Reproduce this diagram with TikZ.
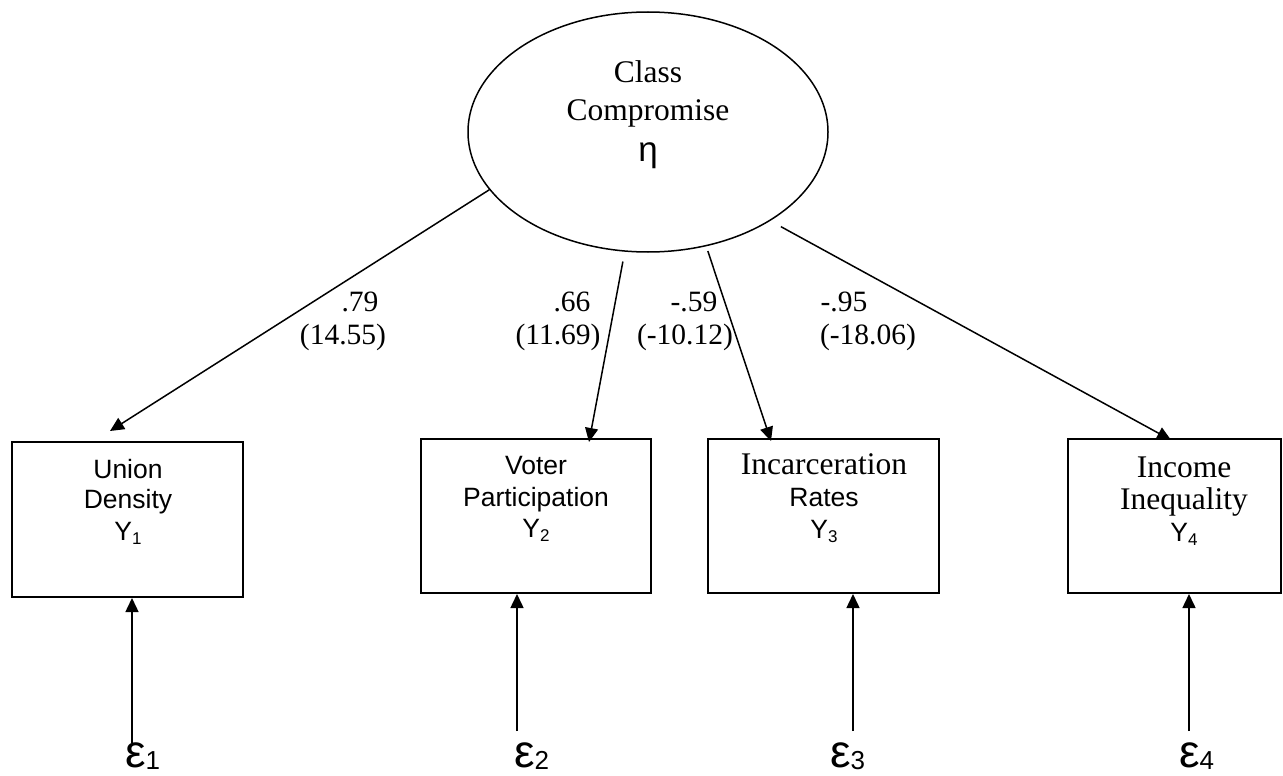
\documentclass[tikz,border=0pt]{standalone}
\usepackage{fontspec}
\setmainfont{Liberation Serif}
\newfontfamily\ars{Liberation Sans}
\usetikzlibrary{arrows.meta,shapes.geometric}
\begin{document}
\begin{tikzpicture}[x=1pt,y=-1pt,
 arr/.style={line width=1.5pt,-{Triangle[length=14pt,width=13pt]}},
 obs/.style={draw,line width=2pt,minimum width=231pt,minimum height=155pt,inner sep=0pt},
 ser/.style={font=\fontsize{31.5}{31.5}\selectfont,anchor=base,inner sep=0pt},
 san/.style={font=\ars\fontsize{26.5}{26.5}\selectfont,anchor=base,inner sep=0pt},
 lab/.style={font=\fontsize{29.5}{29.5}\selectfont,anchor=base,inner sep=0pt},
 eps/.style={font=\ars\fontsize{46}{46}\selectfont,anchor=base west,inner sep=0pt}]
\useasboundingbox (0,0) rectangle (1283,776);
% latent variable
\node[draw,ellipse,minimum width=360pt,minimum height=240pt,line width=1.5pt,inner sep=0pt] (ell) at (648,132) {};
\node[ser] (c1) at (648,83) {Class};
\node[ser] (c2) at (648,120) {Compromise};
\node[font=\ars\fontsize{35}{35}\selectfont,anchor=base,inner sep=0pt] (c3) at (648,161) {η};
% indicators
\node[obs] (b1) at (127.5,519.5) {};
\node[obs,minimum width=230pt,minimum height=154pt] (b2) at (536,516) {};
\node[obs,minimum height=154pt] (b3) at (823.5,516) {};
\node[obs,minimum width=213pt,minimum height=154pt] (b4) at (1174.5,516) {};
% box texts
\node[san] (t1a) at (128,478) {Union};
\node[san] (t1b) at (128,508) {Density};
\node[san] (t1c) at (128,540) {Y{\raisebox{-4pt}{\fontsize{17}{17}\selectfont 1}}};
\node[san] (t2a) at (536,474) {Voter};
\node[san] (t2b) at (536,506) {Participation};
\node[san] (t2c) at (536,537) {Y{\raisebox{-4pt}{\fontsize{17}{17}\selectfont 2}}};
\node[ser] (t3a) at (824,474) {Incarceration};
\node[san] (t3b) at (824,506) {Rates};
\node[san] (t3c) at (824,538) {Y{\raisebox{-4pt}{\fontsize{17}{17}\selectfont 3}}};
\node[ser] (t4a) at (1184,477) {Income};
\node[ser] (t4b) at (1184,509) {Inequality};
\node[san] (t4c) at (1184,541) {Y{\raisebox{-4pt}{\fontsize{17}{17}\selectfont 4}}};
% loadings
\node[lab] (l1a) at (360,311) {.79};
\node[lab] (l1b) at (343,344) {(14.55)};
\node[lab] (l2a) at (572,311) {.66};
\node[lab] (l2b) at (558,344) {(11.69)};
\node[lab] (l3a) at (694,311) {-.59};
\node[lab] (l3b) at (685,344) {(-10.12)};
\node[lab] (l4a) at (844,311) {-.95};
\node[lab] (l4b) at (868,344) {(-18.06)};
% loading arrows
\draw[arr] (ell.200) -- ([xshift=-17.5pt,yshift=10pt]b1.north);
\draw[arr,shorten <=10pt] (ell.259) -- ([xshift=53pt,yshift=-4pt]b2.north);
\draw[arr,shorten <=5pt] (ell.297) -- ([xshift=-52.5pt,yshift=-3pt]b3.north);
\draw[arr,shorten <=12pt] (ell.324) -- ([xshift=-3.5pt,yshift=-2pt]b4.north);
% errors
\node[eps] (e1) at (125,767) {ε\raisebox{-2pt}{\fontsize{26}{26}\selectfont 1}};
\node[eps] (e2) at (514,767) {ε\raisebox{-2pt}{\fontsize{26}{26}\selectfont 2}};
\node[eps] (e3) at (830,767) {ε\raisebox{-2pt}{\fontsize{26}{26}\selectfont 3}};
\node[eps] (e4) at (1179,767) {ε\raisebox{-2pt}{\fontsize{26}{26}\selectfont 4}};
\coordinate (u1) at (132,743);
\coordinate (u2) at (517,731);
\coordinate (u3) at (853,731);
\coordinate (u4) at (1189,731);
\draw[arr] (u1) -- (u1 |- b1.south);
\draw[arr] (u2) -- (u2 |- b2.south);
\draw[arr] (u3) -- (u3 |- b3.south);
\draw[arr] (u4) -- (u4 |- b4.south);
\end{tikzpicture}
\end{document}
